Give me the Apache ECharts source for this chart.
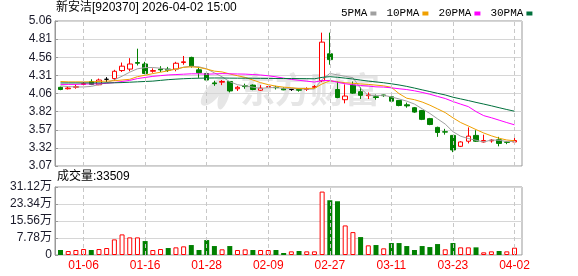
<!DOCTYPE html>
<html><head><meta charset="utf-8">
<script src="https://cdn.jsdelivr.net/npm/echarts@6/dist/echarts.min.js"></script>
<style>html,body{margin:0;padding:0;background:#fff}#c{width:578px;height:276px}</style>
</head><body><div id="c"></div>
<script>
const dates=['12-30','12-31','01-05','01-06','01-07','01-08','01-09','01-12','01-13','01-14','01-15','01-16','01-19','01-20','01-21','01-22','01-23','01-26','01-27','01-28','01-29','01-30','02-02','02-03','02-04','02-05','02-06','02-09','02-10','02-11','02-12','02-13','02-24','02-25','02-26','02-27','03-02','03-03','03-04','03-05','03-06','03-09','03-10','03-11','03-12','03-13','03-16','03-17','03-18','03-19','03-20','03-23','03-24','03-25','03-26','03-27','03-30','03-31','04-01','04-02'];
const opens=[4.15,4.13,4.15,4.19,4.23,4.185,4.26,4.27,4.38,4.40,4.49,4.47,4.37,4.40,4.40,4.40,4.49,4.56,4.39,4.34,4.21,4.22,4.23,4.13,4.17,4.18,4.11,4.15,4.15,4.13,4.12,4.12,4.12,4.15,4.24,4.61,4.12,3.98,4.18,4.09,4.035,4.02,4.045,4.02,3.97,3.91,3.87,3.83,3.72,3.60,3.54,3.49,3.34,3.41,3.49,3.40,3.415,3.43,3.40,3.40];
const closes=[4.12,4.14,4.16,4.20,4.19,4.25,4.26,4.37,4.44,4.47,4.48,4.34,4.38,4.39,4.385,4.48,4.50,4.44,4.35,4.25,4.20,4.23,4.10,4.15,4.16,4.12,4.14,4.16,4.145,4.115,4.12,4.11,4.13,4.16,4.77,4.53,4.01,4.03,4.07,4.04,4.045,4.01,4.035,3.96,3.90,3.895,3.81,3.71,3.64,3.53,3.535,3.29,3.40,3.48,3.41,3.42,3.425,3.38,3.395,3.42];
const lows=[4.11,4.12,4.13,4.17,4.18,4.18,4.22,4.24,4.36,4.37,4.45,4.33,4.35,4.36,4.36,4.37,4.46,4.42,4.28,4.24,4.17,4.18,4.08,4.10,4.13,4.11,4.10,4.14,4.12,4.11,4.10,4.09,4.10,4.14,4.22,4.46,4.00,3.93,4.06,3.99,3.99,3.98,4.02,3.95,3.89,3.87,3.80,3.70,3.63,3.47,3.50,3.26,3.33,3.38,3.40,3.39,3.39,3.34,3.37,3.38];
const highs=[4.16,4.16,4.19,4.23,4.26,4.27,4.29,4.39,4.49,4.55,4.68,4.50,4.41,4.44,4.43,4.50,4.58,4.57,4.43,4.35,4.24,4.25,4.23,4.17,4.20,4.19,4.18,4.18,4.17,4.15,4.13,4.14,4.15,4.18,4.90,4.90,4.23,4.19,4.23,4.15,4.08,4.05,4.05,4.03,3.97,3.94,3.88,3.84,3.73,3.61,3.58,3.49,3.41,3.60,3.56,3.50,3.44,3.47,3.41,3.47];
const volumes=[22800,18200,22800,27300,22800,27300,31900,71500,94300,80600,80600,63800,22800,27300,31900,35000,39600,45600,22800,68300,41000,26000,41000,22800,25800,22800,22800,22800,22800,9100,16700,18200,16700,16700,290200,250600,246000,135300,104800,82000,44200,45600,30500,54700,54700,41000,22800,41000,36400,50100,26000,54700,35000,35000,35000,12200,16700,18200,16700,33509];
const volUp=[0,1,1,1,0,1,1,1,1,1,1,0,1,1,0,1,1,0,0,0,0,1,0,1,1,0,1,1,0,0,1,0,1,1,1,0,0,1,1,0,1,0,1,0,0,0,0,0,0,0,1,0,1,1,0,1,1,0,1,1];
const ma5=[4.17,4.16,4.155,4.155,4.162,4.188,4.212,4.254,4.302,4.358,4.404,4.42,4.422,4.412,4.395,4.395,4.427,4.439,4.431,4.404,4.348,4.294,4.226,4.186,4.168,4.152,4.134,4.146,4.145,4.136,4.136,4.13,4.124,4.127,4.258,4.34,4.32,4.30,4.282,4.136,4.039,4.039,4.04,4.018,3.99,3.96,3.92,3.855,3.791,3.717,3.645,3.541,3.479,3.447,3.423,3.40,3.427,3.423,3.406,3.408];
const ma10=[4.23,4.225,4.225,4.225,4.225,4.23,4.235,4.24,4.25,4.26,4.296,4.316,4.338,4.357,4.377,4.40,4.424,4.431,4.422,4.40,4.372,4.361,4.333,4.309,4.286,4.25,4.214,4.186,4.166,4.152,4.144,4.132,4.135,4.136,4.197,4.238,4.225,4.212,4.205,4.197,4.19,4.18,4.17,4.15,4.063,4.00,3.98,3.948,3.905,3.854,3.803,3.731,3.667,3.619,3.57,3.523,3.484,3.451,3.427,3.416];
const ma20=[4.19,4.19,4.19,4.195,4.195,4.20,4.205,4.215,4.23,4.245,4.27,4.285,4.30,4.31,4.32,4.325,4.33,4.335,4.335,4.33,4.334,4.338,4.335,4.333,4.331,4.325,4.319,4.308,4.294,4.276,4.258,4.246,4.234,4.222,4.242,4.244,4.22,4.199,4.185,4.175,4.167,4.156,4.153,4.143,4.13,4.119,4.102,4.08,4.055,4.025,3.996,3.955,3.919,3.885,3.817,3.761,3.732,3.699,3.666,3.635];
const ma30=[4.21,4.21,4.21,4.21,4.21,4.21,4.21,4.212,4.215,4.22,4.225,4.23,4.235,4.245,4.255,4.262,4.268,4.272,4.275,4.277,4.278,4.278,4.276,4.275,4.275,4.274,4.273,4.272,4.271,4.2705,4.2705,4.2695,4.2685,4.267,4.2865,4.296,4.2875,4.276,4.264,4.2495,4.235,4.224,4.2125,4.198,4.182,4.1625,4.1395,4.115,4.0915,4.0675,4.045,4.014,3.991,3.968,3.943,3.92,3.896,3.870,3.845,3.822];
const priceTicks=['3.07','3.32','3.57','3.82','4.06','4.31','4.56','4.81','5.06'];
const volTicks=['0','7.78万','15.56万','23.34万','31.12万'];
const xTickLabels=['01-06','01-16','01-28','02-09','02-27','03-11','03-23','04-02'];
const priceMin=3.07, priceMax=5.06, volMax=311200;
const titleText='新安洁[920370] 2026-04-02 15:00';
const volText='成交量:33509';

const FONT="'Liberation Sans','Noto Sans CJK SC',sans-serif";
const chart=echarts.init(document.getElementById('c'),null,{renderer:'canvas'});
const frameLeft=55, frameW=467, serLeft=56.65, serW=461.7;
const pTop=21,pH=145,vTop=187,vH=68;

const candleData=dates.map((d,i)=>{
  const it={value:[opens[i],closes[i],lows[i],highs[i]]};
  if(opens[i]===closes[i]) it.itemStyle={color:'#000',borderColor:'#000'};
  return it;
});
const volData=volumes.map((v,i)=>({value:v,itemStyle:volUp[i]?{color:'#fff',borderColor:'#ff0000',borderWidth:1}:{color:'#008000',borderColor:'#008000',borderWidth:0}}));
const vlines={silent:true,symbol:['none','none'],label:{show:false},animation:false,
  lineStyle:{color:'#c8c8c8',type:[4,3],width:1},emphasis:{disabled:true},
  data:xTickLabels.map(d=>({xAxis:d}))};
function maSeries(name,data,color){
  return {name,type:'line',xAxisIndex:1,yAxisIndex:1,data,showSymbol:false,symbol:'none',
    lineStyle:{width:1,color},itemStyle:{color},z:3,silent:true};
}
const option={
  animation:false,
  backgroundColor:'#fff',
  textStyle:{fontFamily:FONT},
  grid:[
    {left:frameLeft,top:pTop,width:frameW,height:pH,show:true,borderColor:'#999',borderWidth:1},
    {left:serLeft,top:pTop,width:serW,height:pH},
    {left:frameLeft,top:vTop,width:frameW,height:vH,show:true,borderColor:'#999',borderWidth:1},
    {left:serLeft,top:vTop,width:serW,height:vH}
  ],
  legend:{data:['5PMA','10PMA','20PMA','30PMA'],left:336,top:3,align:'right',icon:'rect',
    itemWidth:6,itemHeight:4,itemGap:10,selectedMode:false,
    textStyle:{fontSize:11,fontFamily:"'Liberation Mono',monospace",color:'#000',padding:[0,-2,0,0]}},
  xAxis:[
    {gridIndex:0,type:'value',min:0,max:1,show:false},
    {gridIndex:1,type:'category',data:dates,boundaryGap:true,axisLine:{show:false},axisTick:{show:false},axisLabel:{show:false},splitLine:{show:false}},
    {gridIndex:2,type:'value',min:0,max:1,show:false},
    {gridIndex:3,type:'category',data:dates,boundaryGap:true,axisLine:{show:false},axisTick:{show:false},splitLine:{show:false},
      axisLabel:{show:true,interval:(i,v)=>xTickLabels.includes(v),color:'#ff0000',fontSize:12,fontFamily:FONT,margin:5}}
  ],
  yAxis:[
    {gridIndex:0,type:'value',min:0,max:8,interval:1,
      axisLine:{show:true,lineStyle:{color:'#999'}},axisTick:{show:true,inside:true,length:3,lineStyle:{color:'#999'}},
      axisLabel:{formatter:v=>priceTicks[v],color:'#1a1a2a',fontSize:12,fontFamily:FONT,margin:3},
      splitLine:{show:true,lineStyle:{color:'#d6d6d6'}}},
    {gridIndex:1,type:'value',min:priceMin,max:priceMax,show:false,splitLine:{show:false}},
    {gridIndex:2,type:'value',min:0,max:4,interval:1,
      axisLine:{show:true,lineStyle:{color:'#999'}},axisTick:{show:true,inside:true,length:3,lineStyle:{color:'#999'}},
      axisLabel:{formatter:v=>volTicks[v],color:'#1a1a2a',fontSize:12,fontFamily:FONT,margin:3},
      splitLine:{show:true,lineStyle:{color:'#d6d6d6'}}},
    {gridIndex:3,type:'value',min:0,max:volMax,show:false,splitLine:{show:false}}
  ],
  graphic:[
    {type:'text',left:56,top:2,z:10,style:{text:titleText,font:"12px "+FONT,fill:'#000'}},
    {type:'text',left:57,top:171,z:10,style:{text:volText,font:"12px "+FONT,fill:'#000'}},
    {type:'text',left:240,top:72,z:-1,silent:true,style:{text:'东方财富',font:"bold 35px 'Noto Sans CJK SC'",fill:'#e6e6e6'}},
    {type:'ellipse',x:213,y:92,rotation:-0.7,z:-1,silent:true,shape:{cx:0,cy:0,rx:7,ry:17},style:{fill:'#e6e6e6'}},
    {type:'ellipse',x:224,y:95,rotation:-0.3,z:-1,silent:true,shape:{cx:0,cy:0,rx:5,ry:15},style:{fill:'#e6e6e6'}}
  ],
  series:[
    {name:'K',type:'candlestick',xAxisIndex:1,yAxisIndex:1,data:candleData,barWidth:5,z:2,silent:true,
      itemStyle:{color:'#fff',color0:'#008000',borderColor:'#ff0000',borderColor0:'#008000',borderColorDoji:'#000',borderWidth:1},
      markLine:vlines},
    maSeries('5PMA',ma5,'#a0a0a0'),
    maSeries('10PMA',ma10,'#f0a000'),
    maSeries('20PMA',ma20,'#ff00ff'),
    maSeries('30PMA',ma30,'#00703c'),
    {name:'VOL',type:'bar',xAxisIndex:3,yAxisIndex:3,data:volData,barWidth:5,silent:true,markLine:vlines}
  ]
};
chart.setOption(option);
</script></body></html>
